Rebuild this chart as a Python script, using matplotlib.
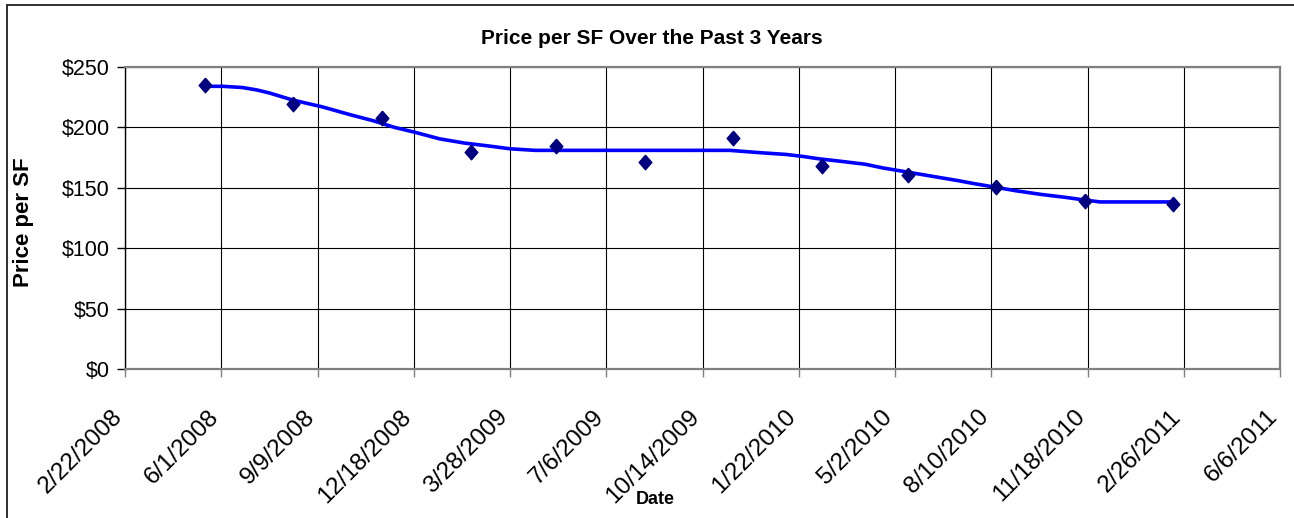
import matplotlib
matplotlib.use("Agg")
import matplotlib.pyplot as plt
import matplotlib.dates as mdates
import matplotlib.transforms as mtrans
import pandas as pd
from matplotlib.patches import Rectangle

plt.rcParams['font.family'] = ['Liberation Sans', 'DejaVu Sans']

# quarterly observations (diamonds)
obs_dates = ["2008-05-15", "2008-08-15", "2008-11-15", "2009-02-15", "2009-05-15", "2009-08-15",
             "2009-11-15", "2010-02-15", "2010-05-15", "2010-08-15", "2010-11-15", "2011-02-15"]
obs_price = [235, 219, 208, 180, 185, 171, 191, 168, 161, 151, 139, 137]

# smoothed trend line
trend_dates = ["2008-05-15", "2008-06-03", "2008-06-23", "2008-07-08", "2008-07-21", "2008-08-14",
               "2008-09-14", "2008-10-13", "2008-11-06", "2008-11-28", "2008-12-19", "2009-01-14",
               "2009-02-09", "2009-03-07", "2009-03-28", "2009-04-23", "2009-11-11", "2009-12-14",
               "2010-01-09", "2010-01-26", "2010-02-12", "2010-03-06", "2010-04-01", "2010-04-19",
               "2010-05-15", "2010-06-10", "2010-07-06", "2010-07-23", "2010-08-14", "2010-09-05",
               "2010-10-01", "2010-10-27", "2010-11-14", "2010-12-01", "2011-02-15"]
trend_price = [234, 234, 233, 231, 228.5, 222.7,
               217, 210.5, 205.5, 200, 196, 190.5,
               187, 184.5, 182.3, 181, 181, 179,
               177.6, 176, 174, 172, 169.5, 166.5,
               163, 159.5, 156, 153.5, 150.5, 147.5,
               144.5, 142, 140, 138.3, 138.3]

tick_labels = ["2/22/2008", "6/1/2008", "9/9/2008", "12/18/2008", "3/28/2009", "7/6/2009",
               "10/14/2009", "1/22/2010", "5/2/2010", "8/10/2010", "11/18/2010", "2/26/2011",
               "6/6/2011"]
y_ticks = [0, 50, 100, 150, 200, 250]

fig = plt.figure(figsize=(12.94, 5.18), dpi=100)
ax = fig.add_axes([125/1294, 1 - 369/518, (1280-125)/1294, (369-67)/518])

tick_pos = mdates.date2num(pd.to_datetime(tick_labels, format="%m/%d/%Y"))

# slightly tall diamond like the Excel marker
diamond = [(0, 1.15), (1, 0), (0, -1.15), (-1, 0), (0, 1.15)]

ax.plot(mdates.date2num(pd.to_datetime(trend_dates)), trend_price, color="#0000FF", lw=2.6,
        solid_capstyle="butt", zorder=3)
ax.plot(mdates.date2num(pd.to_datetime(obs_dates)), obs_price, linestyle="none", marker=diamond,
        ms=10.5, color="#000080", zorder=4)

ax.set_xlim(tick_pos[0], tick_pos[-1])
ax.set_ylim(0, 250)
ax.set_xticks(tick_pos)
ax.set_xticklabels(tick_labels, rotation=45, ha="right", va="center", rotation_mode="anchor",
                   fontsize=17.5)
ax.set_yticks(y_ticks)
ax.set_yticklabels([f"${v}" for v in y_ticks], fontsize=15.5)
ax.tick_params(axis="x", direction="out", length=6, width=1, color="#808080", pad=26)
ax.tick_params(axis="y", direction="out", length=6, width=1, color="black", pad=5)

shift = mtrans.ScaledTranslation(-6/100, 0, fig.dpi_scale_trans)
for lab in ax.get_xticklabels():
    lab.set_transform(lab.get_transform() + shift)

ax.grid(True, color="black", lw=0.8)
ax.set_axisbelow(True)
for side in ["top", "right", "bottom"]:
    ax.spines[side].set_color("#808080")
    ax.spines[side].set_linewidth(1.6)
ax.spines["left"].set_color("black")
ax.spines["left"].set_linewidth(1.0)

fig.text(652/1294, 1 - 38/518, "Price per SF Over the Past 3 Years", ha="center", va="center",
         fontsize=15, fontweight="bold")
fig.text(655/1294, 1 - 500/518, "Date", ha="center", va="center", fontsize=13, fontweight="bold")
fig.text(24/1294, 1 - 222/518, "Price per SF", ha="center", va="center", rotation=90,
         fontsize=16, fontweight="bold")

# outer chart border (only top and left edges are visible in the crop)
fig.patches.append(Rectangle((7/1294, -0.1), 1.2, 1 - 5/518 + 0.1, transform=fig.transFigure,
                             fill=False, edgecolor="#202020", lw=1.3))

fig.savefig("out.png", dpi=100)
